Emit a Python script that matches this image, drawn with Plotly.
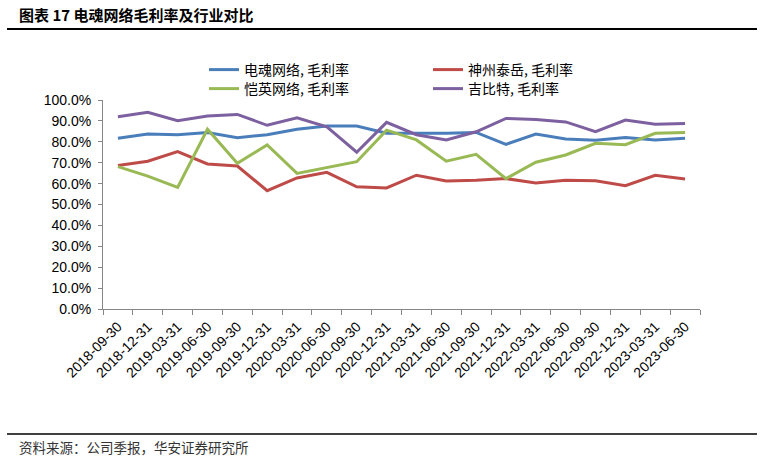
import plotly.graph_objects as go

dates = ["2018-09-30", "2018-12-31", "2019-03-31", "2019-06-30", "2019-09-30",
         "2019-12-31", "2020-03-31", "2020-06-30", "2020-09-30", "2020-12-31",
         "2021-03-31", "2021-06-30", "2021-09-30", "2021-12-31", "2022-03-31",
         "2022-06-30", "2022-09-30", "2022-12-31", "2023-03-31", "2023-06-30"]

dianhun = [81.7, 83.7, 83.4, 84.4, 82.0, 83.4, 86.0, 87.6, 87.6, 84.1,
           84.1, 84.1, 84.5, 78.8, 83.7, 81.3, 80.7, 82.1, 80.9, 81.7]
shenzhou = [68.7, 70.7, 75.3, 69.4, 68.4, 56.6, 62.7, 65.4, 58.5, 57.9,
            64.0, 61.2, 61.6, 62.4, 60.3, 61.6, 61.4, 59.0, 64.0, 62.2]
kaiying = [68.1, 63.6, 58.2, 86.0, 69.7, 78.5, 64.9, 67.6, 70.5, 85.6,
           80.9, 70.7, 74.0, 62.4, 70.2, 73.7, 79.3, 78.6, 84.1, 84.4]
jibite = [92.0, 94.1, 90.1, 92.3, 93.1, 87.9, 91.5, 87.2, 75.0, 89.3,
          83.4, 80.9, 84.8, 91.2, 90.7, 89.5, 84.8, 90.4, 88.4, 88.8]

names = ["电魂网络, 毛利率", "神州泰岳, 毛利率", "恺英网络, 毛利率", "吉比特, 毛利率"]
series = [dianhun, shenzhou, kaiying, jibite]
colors = ["#4A7EBB", "#BE4B48", "#98B954", "#7D60A0"]
legends = ["legend", "legend2", "legend3", "legend4"]

CJK = "Noto Sans CJK SC"
LAT = "Liberation Sans"

fig = go.Figure()
for name, vals, col, lg in zip(names, series, colors, legends):
    fig.add_trace(go.Scatter(x=dates, y=vals, name=name, mode="lines",
                             line=dict(color=col, width=3), legend=lg))

# plot area: x 103..700, y 100..309
L, R, T, B = 103, 64, 100, 154
W, H = 764, 463
pw, ph = W - L - R, H - T - B

def px(x):
    return (x - L) / pw

def py(y):
    return (H - B - y) / ph

legend_font = dict(family=CJK, size=14, color="#000000")

def leg(x, y):
    return dict(x=px(x), y=py(y), xanchor="left", yanchor="top",
                orientation="v", font=legend_font,
                bgcolor="rgba(0,0,0,0)", borderwidth=0)

fig.update_layout(
    width=W, height=H,
    margin=dict(l=L, r=R, t=T, b=B, autoexpand=False),
    paper_bgcolor="white", plot_bgcolor="white",
    showlegend=True,
    legend=leg(204, 54),
    legend2=leg(428, 54),
    legend3=leg(204, 73),
    legend4=leg(428, 73),
    xaxis=dict(type="category", range=[-0.5, len(dates) - 0.5],
               tickangle=-45, tickson="boundaries", ticks="outside", ticklen=5,
               tickcolor="#868686", showline=True, linecolor="#868686",
               linewidth=1, showgrid=False, zeroline=False,
               ticklabelstandoff=3,
               tickfont=dict(family=LAT, size=14, color="#000000")),
    yaxis=dict(range=[0, 100], dtick=10, tick0=0, tickformat=".1f",
               ticksuffix="%", ticks="outside", ticklen=4, tickcolor="#868686",
               showline=True, linecolor="#868686", linewidth=1,
               showgrid=False, zeroline=False, ticklabelstandoff=4,
               tickfont=dict(family=LAT, size=14, color="#000000")),
)

fig.add_annotation(text="<b>图表 17 电魂网络毛利率及行业对比</b>", xref="paper", yref="paper",
                   x=px(17), y=py(14), xanchor="left", yanchor="middle",
                   showarrow=False, font=dict(family=CJK, size=15, color="#000000"))
fig.add_annotation(text="资料来源：公司季报，华安证券研究所", xref="paper", yref="paper",
                   x=px(17), y=py(447), xanchor="left", yanchor="middle",
                   showarrow=False, font=dict(family=CJK, size=13.5, color="#333333"))

fig.add_shape(type="line", xref="paper", yref="paper", x0=px(7), x1=px(757),
              y0=py(29), y1=py(29), line=dict(color="#000000", width=2))
fig.add_shape(type="line", xref="paper", yref="paper", x0=px(7), x1=px(757),
              y0=py(434), y1=py(434), line=dict(color="#000000", width=1.5))

fig.write_html("out.html", config={"displayModeBar": False},
               post_script="document.body.style.margin='0px';document.body.style.overflow='hidden';")
